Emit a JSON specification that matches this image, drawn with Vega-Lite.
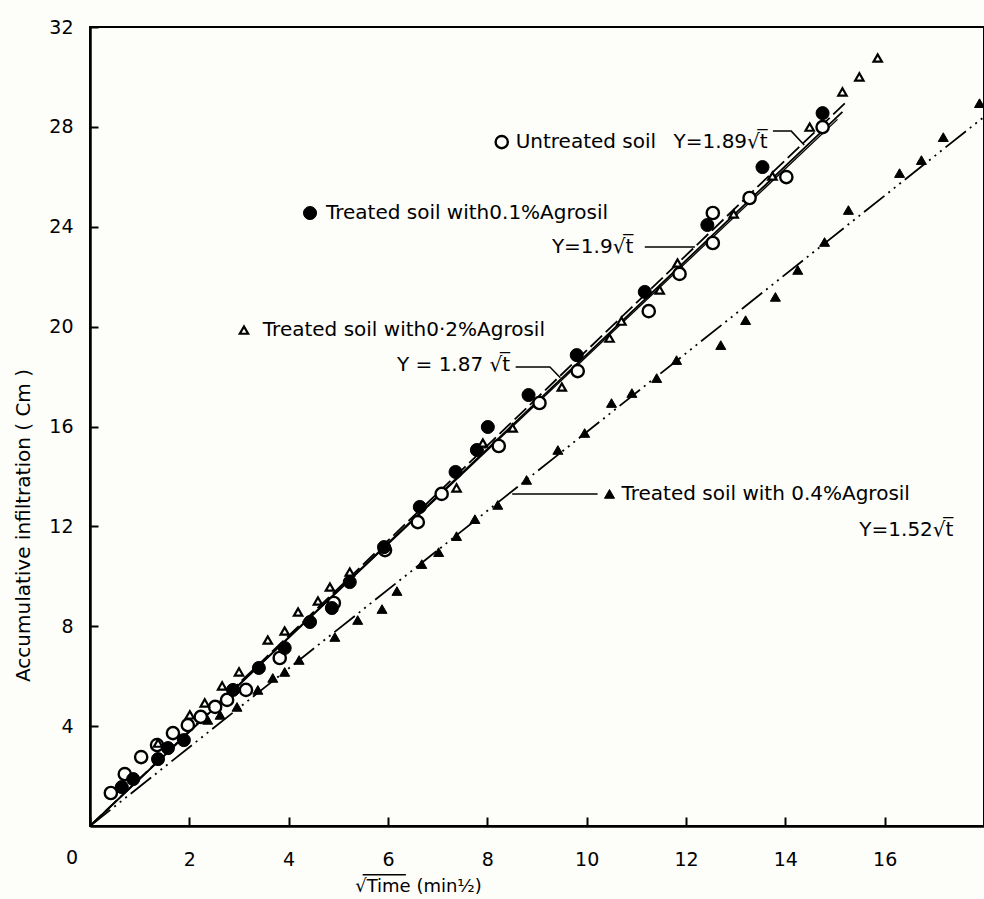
{
  "$schema": "https://vega.github.io/schema/vega-lite/v6.json",
  "width": 894,
  "height": 799,
  "autosize": {"type": "none"},
  "padding": {"left": 90, "top": 27, "right": 0, "bottom": 73},
  "background": "#fdfdfa",
  "config": {
    "view": {"stroke": "black", "strokeWidth": 2},
    "font": "DejaVu Sans",
    "axis": {"grid": false, "domainColor": "black", "domainWidth": 2.5, "tickColor": "black", "tickWidth": 2, "labelColor": "black", "titleColor": "black", "labelFont": "DejaVu Sans", "titleFont": "DejaVu Sans", "labelFontWeight": "normal", "titleFontWeight": "normal"}
  },
  "datasets": {
    "pts": [
      {"s": "u", "x": 0.42, "y": 1.32}, {"s": "u", "x": 0.70, "y": 2.08}, {"s": "u", "x": 1.03, "y": 2.76}, {"s": "u", "x": 1.35, "y": 3.24}, {"s": "u", "x": 1.67, "y": 3.72}, {"s": "u", "x": 1.97, "y": 4.04}, {"s": "u", "x": 2.23, "y": 4.37}, {"s": "u", "x": 2.52, "y": 4.77}, {"s": "u", "x": 2.76, "y": 5.05}, {"s": "u", "x": 3.14, "y": 5.45}, {"s": "u", "x": 3.82, "y": 6.73}, {"s": "u", "x": 4.91, "y": 8.93}, {"s": "u", "x": 5.94, "y": 11.05}, {"s": "u", "x": 6.60, "y": 12.17}, {"s": "u", "x": 7.08, "y": 13.30}, {"s": "u", "x": 8.23, "y": 15.22}, {"s": "u", "x": 9.05, "y": 16.94}, {"s": "u", "x": 9.82, "y": 18.22}, {"s": "u", "x": 11.25, "y": 20.62}, {"s": "u", "x": 11.87, "y": 22.11}, {"s": "u", "x": 12.54, "y": 23.35}, {"s": "u", "x": 12.54, "y": 24.55}, {"s": "u", "x": 13.28, "y": 25.15}, {"s": "u", "x": 14.02, "y": 25.99}, {"s": "u", "x": 14.75, "y": 27.99},
      {"s": "t1", "x": 0.64, "y": 1.56}, {"s": "t1", "x": 0.87, "y": 1.88}, {"s": "t1", "x": 1.37, "y": 2.68}, {"s": "t1", "x": 1.57, "y": 3.12}, {"s": "t1", "x": 1.89, "y": 3.44}, {"s": "t1", "x": 2.88, "y": 5.45}, {"s": "t1", "x": 3.40, "y": 6.33}, {"s": "t1", "x": 3.92, "y": 7.13}, {"s": "t1", "x": 4.43, "y": 8.17}, {"s": "t1", "x": 4.87, "y": 8.73}, {"s": "t1", "x": 5.23, "y": 9.77}, {"s": "t1", "x": 5.92, "y": 11.17}, {"s": "t1", "x": 6.64, "y": 12.78}, {"s": "t1", "x": 7.36, "y": 14.18}, {"s": "t1", "x": 7.79, "y": 15.06}, {"s": "t1", "x": 8.01, "y": 15.98}, {"s": "t1", "x": 8.83, "y": 17.26}, {"s": "t1", "x": 9.80, "y": 18.86}, {"s": "t1", "x": 11.17, "y": 21.39}, {"s": "t1", "x": 12.43, "y": 24.07}, {"s": "t1", "x": 13.54, "y": 26.39}, {"s": "t1", "x": 14.75, "y": 28.55},
      {"s": "t2", "x": 1.37, "y": 3.32}, {"s": "t2", "x": 2.01, "y": 4.45}, {"s": "t2", "x": 2.31, "y": 4.93}, {"s": "t2", "x": 2.66, "y": 5.61}, {"s": "t2", "x": 3.00, "y": 6.17}, {"s": "t2", "x": 3.58, "y": 7.45}, {"s": "t2", "x": 3.92, "y": 7.81}, {"s": "t2", "x": 4.19, "y": 8.57}, {"s": "t2", "x": 4.59, "y": 9.01}, {"s": "t2", "x": 4.83, "y": 9.57}, {"s": "t2", "x": 5.23, "y": 10.17}, {"s": "t2", "x": 7.38, "y": 13.54}, {"s": "t2", "x": 7.91, "y": 15.34}, {"s": "t2", "x": 8.51, "y": 15.94}, {"s": "t2", "x": 9.50, "y": 17.58}, {"s": "t2", "x": 10.46, "y": 19.54}, {"s": "t2", "x": 10.70, "y": 20.22}, {"s": "t2", "x": 11.47, "y": 21.47}, {"s": "t2", "x": 11.83, "y": 22.55}, {"s": "t2", "x": 12.96, "y": 24.51}, {"s": "t2", "x": 13.74, "y": 26.03}, {"s": "t2", "x": 14.49, "y": 27.99}, {"s": "t2", "x": 15.15, "y": 29.40}, {"s": "t2", "x": 15.49, "y": 30.0}, {"s": "t2", "x": 15.86, "y": 30.76},
      {"s": "t4", "x": 2.37, "y": 4.25}, {"s": "t4", "x": 2.62, "y": 4.45}, {"s": "t4", "x": 2.96, "y": 4.77}, {"s": "t4", "x": 3.38, "y": 5.45}, {"s": "t4", "x": 3.68, "y": 5.93}, {"s": "t4", "x": 3.92, "y": 6.17}, {"s": "t4", "x": 4.21, "y": 6.65}, {"s": "t4", "x": 4.93, "y": 7.57}, {"s": "t4", "x": 5.39, "y": 8.25}, {"s": "t4", "x": 5.88, "y": 8.69}, {"s": "t4", "x": 6.18, "y": 9.41}, {"s": "t4", "x": 6.68, "y": 10.49}, {"s": "t4", "x": 7.02, "y": 10.97}, {"s": "t4", "x": 7.38, "y": 11.61}, {"s": "t4", "x": 7.75, "y": 12.29}, {"s": "t4", "x": 8.21, "y": 12.86}, {"s": "t4", "x": 8.79, "y": 13.86}, {"s": "t4", "x": 9.42, "y": 15.06}, {"s": "t4", "x": 9.96, "y": 15.74}, {"s": "t4", "x": 10.50, "y": 16.94}, {"s": "t4", "x": 10.91, "y": 17.34}, {"s": "t4", "x": 11.41, "y": 17.94}, {"s": "t4", "x": 11.81, "y": 18.66}, {"s": "t4", "x": 12.70, "y": 19.26}, {"s": "t4", "x": 13.20, "y": 20.26}, {"s": "t4", "x": 13.80, "y": 21.19}, {"s": "t4", "x": 14.25, "y": 22.27}, {"s": "t4", "x": 14.79, "y": 23.39}, {"s": "t4", "x": 15.27, "y": 24.67}, {"s": "t4", "x": 16.30, "y": 26.15}, {"s": "t4", "x": 16.74, "y": 26.67}, {"s": "t4", "x": 17.18, "y": 27.59}, {"s": "t4", "x": 17.91, "y": 28.95},
      {"s": "u", "x": 8.29, "y": 27.39}, {"s": "t1", "x": 4.43, "y": 24.55}, {"s": "t2", "x": 3.10, "y": 19.86}, {"s": "t4", "x": 10.46, "y": 13.30}
    ],
    "fits": [
      {"s": "u", "x": 0, "y": 0}, {"s": "u", "x": 15.15, "y": 28.6},
      {"s": "t1", "x": 0, "y": 0}, {"s": "t1", "x": 15.2, "y": 28.95},
      {"s": "t2", "x": 0, "y": 0}, {"s": "t2", "x": 15.05, "y": 28.3},
      {"s": "t4", "x": 0, "y": 0}, {"s": "t4", "x": 18, "y": 28.4}
    ],
    "leaders": [
      {"id": "a", "o": 1, "x": 13.75, "y": 27.83}, {"id": "a", "o": 2, "x": 14.12, "y": 27.83}, {"id": "a", "o": 3, "x": 14.38, "y": 27.27},
      {"id": "b", "o": 1, "x": 11.17, "y": 23.19}, {"id": "b", "o": 2, "x": 12.18, "y": 23.19},
      {"id": "c", "o": 1, "x": 8.57, "y": 18.38}, {"id": "c", "o": 2, "x": 9.26, "y": 18.38}, {"id": "c", "o": 3, "x": 9.47, "y": 17.95},
      {"id": "d", "o": 1, "x": 10.22, "y": 13.30}, {"id": "d", "o": 2, "x": 8.50, "y": 13.30},
      {"id": "e", "o": 1, "x": 5.49, "y": -1.95}, {"id": "e", "o": 2, "x": 6.36, "y": -1.95}
    ],
    "notes": [
      {"x": 8.57, "y": 27.39, "t": "Untreated soil"},
      {"x": 11.75, "y": 27.39, "t": "Y=1.89√t̅"},
      {"x": 4.75, "y": 24.55, "t": "Treated soil with0.1%Agrosil"},
      {"x": 9.30, "y": 23.19, "t": "Y=1.9√t̅"},
      {"x": 3.48, "y": 19.86, "t": "Treated soil with0·2%Agrosil"},
      {"x": 6.18, "y": 18.46, "t": "Y = 1.87 √t̅"},
      {"x": 10.70, "y": 13.30, "t": "Treated soil with 0.4%Agrosil"},
      {"x": 15.49, "y": 11.85, "t": "Y=1.52√t̅"}
    ]
  },
  "layer": [
    {
      "data": {"name": "fits"},
      "transform": [{"filter": "datum.s == 'u'"}],
      "mark": {"type": "line", "color": "black", "strokeWidth": 1.8},
      "encoding": {
        "x": {"field": "x", "type": "quantitative", "scale": {"domain": [0, 18], "nice": false, "zero": false},
          "axis": {"values": [0, 2, 4, 6, 8, 10, 12, 14, 16], "labelExpr": "datum.value == 0 ? '' : datum.label", "tickSize": -9, "labelPadding": 33, "labelFontSize": 19, "title": "√Time (min½)", "titleFontSize": 18, "titleX": 328, "titleY": 60, "titleBaseline": "middle"}},
        "y": {"field": "y", "type": "quantitative", "scale": {"domain": [0, 32], "nice": false, "zero": false},
          "axis": {"values": [4, 8, 12, 16, 20, 24, 28, 32], "tickSize": -8, "labelPadding": 25, "labelFontSize": 19, "title": "Accumulative infiltration ( Cm )", "titleFontSize": 20, "titleX": -67, "titleY": 498, "titleBaseline": "middle"}}
      }
    },
    {
      "data": {"name": "fits"},
      "transform": [{"filter": "datum.s == 't1'"}],
      "mark": {"type": "line", "color": "black", "strokeWidth": 1.8, "strokeDash": [16, 5]},
      "encoding": {"x": {"field": "x", "type": "quantitative"}, "y": {"field": "y", "type": "quantitative"}}
    },
    {
      "data": {"name": "fits"},
      "transform": [{"filter": "datum.s == 't2'"}],
      "mark": {"type": "line", "color": "black", "strokeWidth": 1.3},
      "encoding": {"x": {"field": "x", "type": "quantitative"}, "y": {"field": "y", "type": "quantitative"}}
    },
    {
      "data": {"name": "fits"},
      "transform": [{"filter": "datum.s == 't4'"}],
      "mark": {"type": "line", "color": "black", "strokeWidth": 1.8, "strokeDash": [26, 5, 2, 5, 2, 5, 2, 5]},
      "encoding": {"x": {"field": "x", "type": "quantitative"}, "y": {"field": "y", "type": "quantitative"}}
    },
    {
      "data": {"name": "leaders"},
      "mark": {"type": "line", "color": "black", "strokeWidth": 1.5},
      "encoding": {"x": {"field": "x", "type": "quantitative"}, "y": {"field": "y", "type": "quantitative"}, "detail": {"field": "id"}, "order": {"field": "o"}}
    },
    {
      "data": {"name": "pts"},
      "transform": [{"filter": "datum.s == 'u'"}],
      "mark": {"type": "point", "shape": "circle", "filled": true, "fill": "#fdfdfa", "stroke": "black", "strokeWidth": 2.4, "size": 150, "opacity": 1},
      "encoding": {"x": {"field": "x", "type": "quantitative"}, "y": {"field": "y", "type": "quantitative"}}
    },
    {
      "data": {"name": "pts"},
      "transform": [{"filter": "datum.s == 't1'"}],
      "mark": {"type": "point", "shape": "circle", "filled": true, "fill": "black", "stroke": "black", "strokeWidth": 1, "size": 170, "opacity": 1},
      "encoding": {"x": {"field": "x", "type": "quantitative"}, "y": {"field": "y", "type": "quantitative"}}
    },
    {
      "data": {"name": "pts"},
      "transform": [{"filter": "datum.s == 't2'"}],
      "mark": {"type": "point", "shape": "triangle-up", "filled": true, "fill": "#fdfdfa", "stroke": "black", "strokeWidth": 2.2, "size": 70, "opacity": 1},
      "encoding": {"x": {"field": "x", "type": "quantitative"}, "y": {"field": "y", "type": "quantitative"}}
    },
    {
      "data": {"name": "pts"},
      "transform": [{"filter": "datum.s == 't4'"}],
      "mark": {"type": "point", "shape": "triangle-up", "filled": true, "fill": "black", "stroke": "black", "strokeWidth": 1, "size": 100, "opacity": 1},
      "encoding": {"x": {"field": "x", "type": "quantitative"}, "y": {"field": "y", "type": "quantitative"}}
    },
    {
      "data": {"name": "notes"},
      "mark": {"type": "text", "align": "left", "baseline": "middle", "fontSize": 20, "font": "DejaVu Sans", "color": "black"},
      "encoding": {"x": {"field": "x", "type": "quantitative"}, "y": {"field": "y", "type": "quantitative"}, "text": {"field": "t"}}
    },
    {
      "data": {"values": [{"x": 0, "y": 0, "t": "0"}]},
      "mark": {"type": "text", "align": "center", "baseline": "top", "fontSize": 19, "font": "DejaVu Sans", "color": "black", "dx": -18, "dy": 23},
      "encoding": {"x": {"field": "x", "type": "quantitative"}, "y": {"field": "y", "type": "quantitative"}, "text": {"field": "t"}}
    }
  ]
}
